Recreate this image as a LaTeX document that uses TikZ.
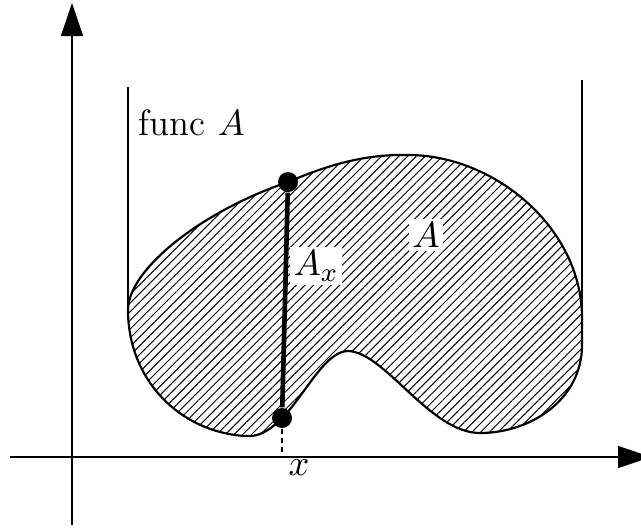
\documentclass[tikz,border=0pt]{standalone}
\usetikzlibrary{arrows.meta,patterns.meta}
\begin{document}
\begin{tikzpicture}[x=0.3pt,y=-0.3pt,
  axis/.style={line width=0.45pt,-{Triangle[length=9.9pt,width=6.6pt]}},
  wall/.style={line width=0.45pt},
  blob/.style={line width=0.65pt,pattern={Lines[angle=45,distance=1.85pt,line width=0.3pt]}},
  chord/.style={line width=1.4pt},
  guide/.style={line width=0.6pt,dash pattern=on 1.5pt off 1.2pt},
  dot/.style={circle,fill=black,inner sep=0pt,minimum size=6pt},
  lbl/.style={font=\fontsize{11}{13}\selectfont,inner sep=1pt},
  wlbl/.style={lbl,fill=white}]
\useasboundingbox (0,0) rectangle (641,529);
% axes
\coordinate (xs) at (10,457);
\coordinate (xe) at (651,457);
\coordinate (ys) at (72,525);
\coordinate (ye) at (72,3);
\draw[axis] (xs) -- (xe);
\draw[axis] (ys) -- (ye);
% walls
\coordinate (lwt) at (128,87);
\coordinate (lwb) at (128,310);
\coordinate (rwt) at (582,80);
\coordinate (rwb) at (582,345);
\draw[wall] (lwt) -- (lwb);
\draw[wall] (rwt) -- (rwb);
% region A
\draw[blob] (128,310) .. controls (128,270) and (200,212) .. (288,182)
  .. controls (335,162) and (370,154) .. (410,155)
  .. controls (495,156) and (582,228) .. (582,318)
  -- (582,345)
  .. controls (582,400) and (530,433) .. (480,433)
  .. controls (430,433) and (385,352) .. (348,351)
  .. controls (325,351) and (305,395) .. (282,418)
  .. controls (268,432) and (258,437) .. (245,436)
  .. controls (180,432) and (128,380) .. (128,310) -- cycle;
% section A_x
\node[dot] (top) at (288,182) {};
\node[dot] (bot) at (282,418) {};
\coordinate (foot) at (282,457);
\draw[chord] (top) -- (bot);
\draw[guide] (bot) -- (foot);
% labels
\node[wlbl] (ax) at (316,266) {$A_x$};
\node[wlbl] (a) at (426,235) {$A$};
\node[lbl] (func) at (192,123) {func $A$};
\node[lbl] (xl) at (299,468) {$x$};
\end{tikzpicture}
\end{document}
